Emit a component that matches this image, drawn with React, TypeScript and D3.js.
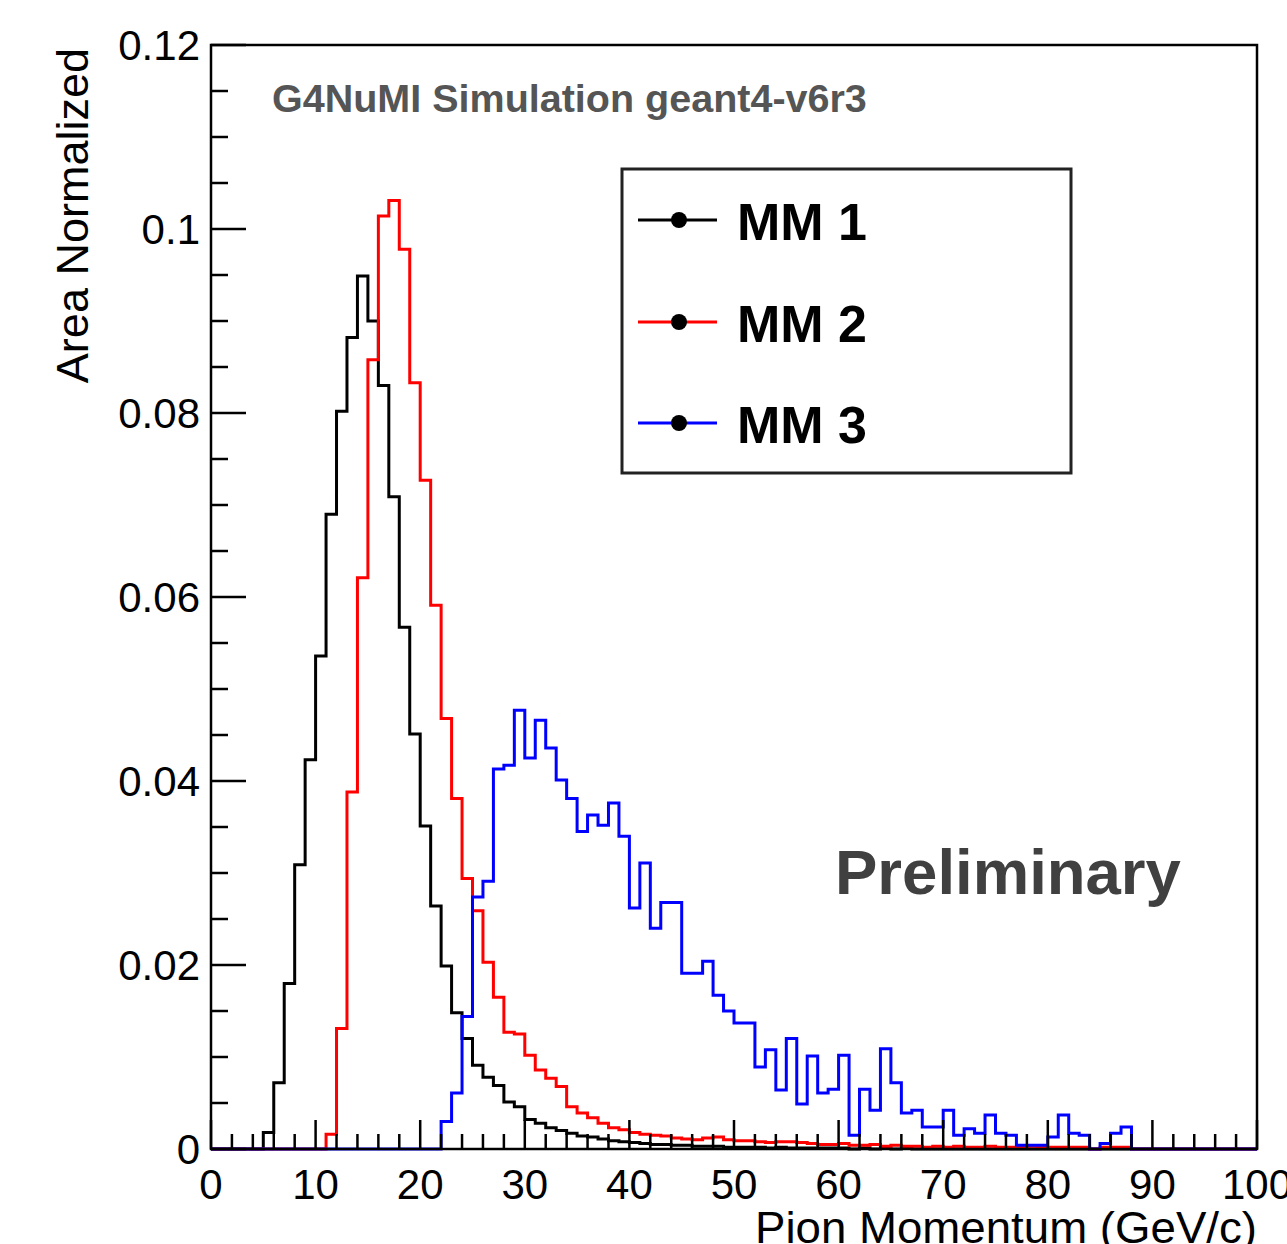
import React from 'react';
import * as d3 from 'd3';

// Bin contents, 1 GeV/c bins from 0 to 100 (index = lower bin edge)
const mm1: number[] = [
  0, 0, 0, 0, 0, 0.0018, 0.0072, 0.0180, 0.0309, 0.0423,
  0.0536, 0.0690, 0.0802, 0.0882, 0.0949, 0.0900, 0.0830, 0.0709, 0.0567, 0.0451,
  0.0351, 0.0264, 0.0199, 0.0148, 0.0120, 0.0091, 0.0078, 0.0069, 0.0051, 0.0046,
  0.0032, 0.0028, 0.0023, 0.0020, 0.0017, 0.0014, 0.0013, 0.0011, 0.0009, 0.0008,
  0.0007, 0.0006, 0.0005, 0.0005, 0.0004, 0.0004, 0.0003, 0.0003, 0.0003, 0.0002,
  0.0002, 0.0002, 0.0002, 0.0001, 0.0002, 0.0001, 0.0001, 0.0001, 0.0001, 0.0001,
  0.0001, 0, 0.0001, 0, 0.0001, 0, 0.0001, 0, 0, 0,
  0, 0, 0, 0, 0, 0, 0, 0, 0, 0,
  0, 0, 0, 0, 0, 0, 0, 0, 0, 0,
  0, 0, 0, 0, 0, 0, 0, 0, 0, 0,
];

const mm2: number[] = [
  0, 0, 0, 0, 0, 0, 0, 0, 0, 0,
  0, 0.0016, 0.0131, 0.0388, 0.0621, 0.0858, 0.1014, 0.1031, 0.0978, 0.0833,
  0.0727, 0.0591, 0.0468, 0.0381, 0.0294, 0.0259, 0.0203, 0.0165, 0.0127, 0.0125,
  0.0102, 0.0086, 0.0077, 0.0068, 0.0046, 0.0039, 0.0034, 0.0028, 0.0023, 0.0021,
  0.0018, 0.0016, 0.0015, 0.0014, 0.0012, 0.0011, 0.0010, 0.0012, 0.0013, 0.0010,
  0.0009, 0.0009, 0.0008, 0.0007, 0.0008, 0.0008, 0.0007, 0.0006, 0.0005, 0.0005,
  0.0006, 0.0004, 0.0004, 0.0005, 0.0003, 0.0004, 0.0003, 0.0003, 0.0002, 0.0003,
  0.0002, 0.0003, 0.0002, 0.0002, 0.0003, 0.0002, 0.0002, 0.0002, 0.0003, 0.0002,
  0.0002, 0.0002, 0.0002, 0.0002, 0, 0.0002, 0.0002, 0.0002, 0, 0,
  0, 0, 0, 0, 0, 0, 0, 0, 0, 0,
];

const mm3: number[] = [
  0, 0, 0, 0, 0, 0, 0, 0, 0, 0,
  0, 0, 0, 0, 0, 0, 0, 0, 0, 0,
  0, 0, 0.0030, 0.0061, 0.0144, 0.0274, 0.0291, 0.0413, 0.0417, 0.0477,
  0.0425, 0.0466, 0.0436, 0.0401, 0.0381, 0.0345, 0.0363, 0.0352, 0.0376, 0.0340,
  0.0262, 0.0311, 0.0240, 0.0268, 0.0268, 0.0191, 0.0191, 0.0204, 0.0167, 0.0150,
  0.0137, 0.0137, 0.0089, 0.0108, 0.0064, 0.0120, 0.0049, 0.0101, 0.0061, 0.0065,
  0.0102, 0.0015, 0.0065, 0.0042, 0.0109, 0.0072, 0.0039, 0.0042, 0.0024, 0.0024,
  0.0042, 0.0015, 0.0022, 0.0017, 0.0037, 0.0017, 0.0015, 0.0004, 0.0004, 0.0004,
  0.0013, 0.0037, 0.0017, 0.0015, 0, 0.0006, 0.0017, 0.0024, 0, 0,
  0, 0, 0, 0, 0, 0, 0, 0, 0, 0,
];

const seriesNames = ['MM 1', 'MM 2', 'MM 3'];
const seriesColors = ['#000000', '#ff0000', '#0000ff'];
const seriesData = [mm1, mm2, mm3];

const xTickValues = [0, 10, 20, 30, 40, 50, 60, 70, 80, 90, 100];
const xTickLabels = ['0', '10', '20', '30', '40', '50', '60', '70', '80', '90', '100'];
const yTickValues = [0, 0.02, 0.04, 0.06, 0.08, 0.1, 0.12];
const yTickLabels = ['0', '0.02', '0.04', '0.06', '0.08', '0.1', '0.12'];

const titleText = 'G4NuMI Simulation geant4-v6r3';
const xAxisTitle = 'Pion Momentum (GeV/c)';
const yAxisTitle = 'Area Normalized';
const watermark = 'Preliminary';

const W = 1287;
const H = 1244;
const L = 211, R = 1257, T = 45, B = 1149;
const FONT = '"Liberation Sans", Arial, Helvetica, sans-serif';

export default function App() {
  const x = d3.scaleLinear().domain([0, 100]).range([L, R]);
  const y = d3.scaleLinear().domain([0, 0.12]).range([B, T]);

  const line = d3
    .line<[number, number]>()
    .x((d) => x(d[0]))
    .y((d) => y(d[1]));

  const stepPoints = (vals: number[]): [number, number][] => {
    const pts: [number, number][] = [];
    vals.forEach((v, i) => {
      pts.push([i, v]);
      pts.push([i + 1, v]);
    });
    return pts;
  };

  const xMinor = d3.range(0, 101, 2).filter((v) => v % 10 !== 0);
  const yMinor = d3.range(0, 0.1201, 0.005).filter(
    (v) => Math.abs(v / 0.02 - Math.round(v / 0.02)) > 1e-6
  );

  const legendX = 622, legendY = 169, legendW = 449, legendH = 304;
  const legendRows = [220, 322, 423];

  return (
    <svg
      width={W}
      height={H}
      style={{ position: 'absolute', left: 0, top: 0, background: '#fff' }}
      fontFamily={FONT}
    >
      <rect x={0} y={0} width={W} height={H} fill="#fff" />

      {/* histograms */}
      <g fill="none" strokeWidth={3} strokeLinejoin="miter">
        {seriesData.map((vals, k) => (
          <path key={k} d={line(stepPoints(vals)) || ''} stroke={seriesColors[k]} />
        ))}
      </g>

      {/* frame */}
      <rect x={L} y={T} width={R - L} height={B - T} fill="none" stroke="#000" strokeWidth={2.5} />

      {/* ticks */}
      <g stroke="#000" strokeWidth={2.5}>
        {yTickValues.map((v, i) => (
          <line key={'ym' + i} x1={L} x2={L + 35} y1={y(v)} y2={y(v)} />
        ))}
        {yMinor.map((v, i) => (
          <line key={'yn' + i} x1={L} x2={L + 17} y1={y(v)} y2={y(v)} />
        ))}
        {xTickValues.map((v, i) => (
          <line key={'xm' + i} x1={x(v)} x2={x(v)} y1={B} y2={B - 29} />
        ))}
        {xMinor.map((v, i) => (
          <line key={'xn' + i} x1={x(v)} x2={x(v)} y1={B} y2={B - 15} />
        ))}
      </g>

      {/* tick labels */}
      <g fontSize={42} fill="#000">
        {yTickValues.map((v, i) => (
          <text key={'yl' + i} x={200} y={y(v) + 15} textAnchor="end">
            {yTickLabels[i]}
          </text>
        ))}
        {xTickValues.map((v, i) => (
          <text key={'xl' + i} x={x(v)} y={1199} textAnchor="middle">
            {xTickLabels[i]}
          </text>
        ))}
      </g>

      {/* axis titles */}
      <text x={R} y={1243} fontSize={45} textAnchor="end" fill="#000"
        textLength={502} lengthAdjust="spacingAndGlyphs">
        {xAxisTitle}
      </text>
      <text
        transform={`translate(88, 48) rotate(-90)`}
        fontSize={45}
        textAnchor="end"
        fill="#000"
      >
        {yAxisTitle}
      </text>

      {/* simulation label */}
      <text x={272} y={112} fontSize={39.5} fontWeight="bold" fill="#555">
        {titleText}
      </text>

      {/* Preliminary */}
      <text x={835} y={894} fontSize={63.5} fontWeight="bold" fill="#404040">
        {watermark}
      </text>

      {/* legend */}
      <rect
        x={legendX}
        y={legendY}
        width={legendW}
        height={legendH}
        fill="#fff"
        stroke="#222"
        strokeWidth={3}
      />
      {seriesNames.map((name, k) => (
        <g key={name}>
          <line x1={638} x2={717} y1={legendRows[k]} y2={legendRows[k]} stroke={seriesColors[k]} strokeWidth={3} />
          <circle cx={679} cy={legendRows[k]} r={8} fill="#000" />
          <text x={737} y={legendRows[k] + 20} fontSize={52} fontWeight="bold" fill="#000">
            {name}
          </text>
        </g>
      ))}
    </svg>
  );
}
